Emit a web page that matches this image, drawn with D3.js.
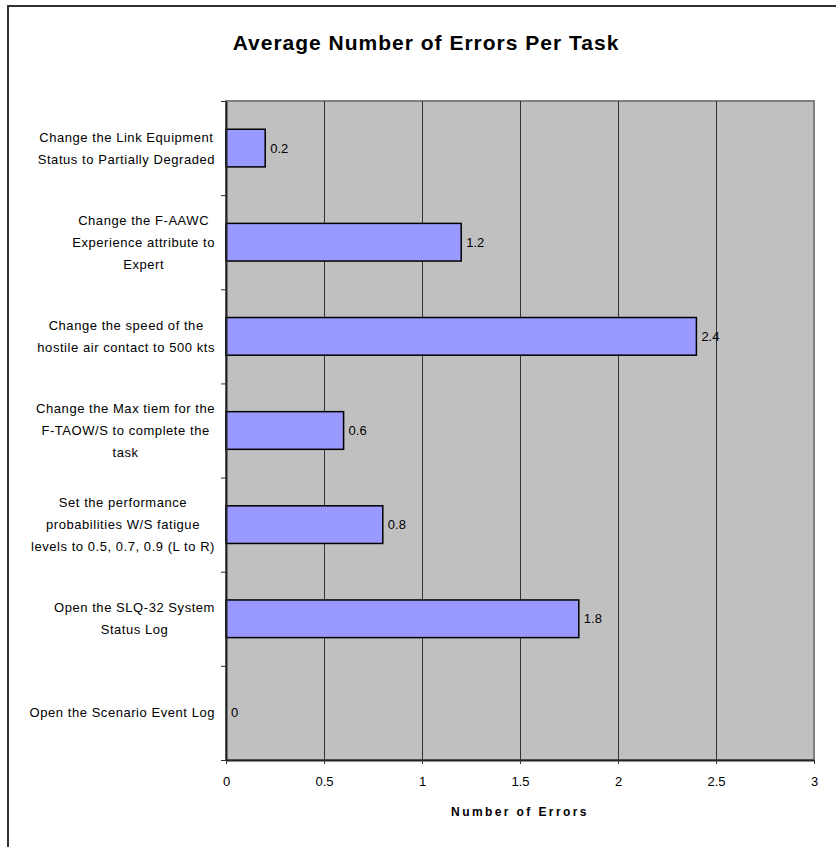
<!DOCTYPE html>
<html>
<head>
<meta charset="utf-8">
<script src="https://cdnjs.cloudflare.com/ajax/libs/d3/7.8.5/d3.min.js"></script>
<style>
	body { margin: 0; background: #fff; }
	text { font-family: Arial, "Liberation Sans", sans-serif; fill: #000; }
</style>
</head>
<body>
<div id="chart"></div>
<script>
var tasks = [
	["Change the Link Equipment", "Status to Partially Degraded"],
	["Change the F-AAWC", "Experience attribute to", "Expert"],
	["Change the speed of the", "hostile air contact to 500 kts"],
	["Change the Max tiem for the", "F-TAOW/S to complete the", "task"],
	["Set the performance", "probabilities W/S fatigue", "levels to 0.5, 0.7, 0.9 (L to R)"],
	["Open the SLQ-32 System", "Status Log"],
	["Open the Scenario Event Log"]
];
var errors = [0.2, 1.2, 2.4, 0.6, 0.8, 1.8, 0];
var xTicks = [0, 0.5, 1, 1.5, 2, 2.5, 3];
var title = "Average Number of Errors Per Task";
var xTitle = "Number of Errors";

var width = 836, height = 847;
var margin = {top: 101, right: 22, bottom: 87, left: 226};

var svg = d3.select("#chart").append("svg")
	.attr("width", width)
	.attr("height", height);

// outer frame (only top + left show in the picture)
svg.append("path")
	.attr("d", "M8,847 L8,6 L836,6")
	.attr("fill", "none")
	.attr("stroke", "#333")
	.attr("stroke-width", 2);

svg.append("text")
	.attr("x", 426)
	.attr("y", 50)
	.attr("text-anchor", "middle")
	.style("font-size", "21px")
	.style("font-weight", "bold")
	.style("letter-spacing", "1px")
	.text(title);

var x = d3.scaleLinear()
	.domain([0, 3])
	.range([margin.left, width - margin.right]);

var idx = tasks.map((d, i) => i);
var y = d3.scaleBand()
	.domain(idx)
	.range([margin.top, height - margin.bottom])
	.paddingInner(0.6)
	.paddingOuter(0.3);

var yEdge = d3.scaleLinear()
	.domain([0, tasks.length])
	.range([margin.top, height - margin.bottom]);

// plot background
svg.append("rect")
	.attr("x", x(0))
	.attr("y", yEdge(0))
	.attr("width", x(3) - x(0))
	.attr("height", yEdge(tasks.length) - yEdge(0))
	.attr("fill", "#c0c0c0")
	.attr("stroke", "#808080")
	.attr("stroke-width", 2);

// vertical gridlines
svg.selectAll(".grid")
	.data(xTicks.slice(1, -1))
	.enter()
	.append("line")
	.attr("class", "grid")
	.attr("x1", d => Math.round(x(d)) + 0.5)
	.attr("x2", d => Math.round(x(d)) + 0.5)
	.attr("y1", yEdge(0))
	.attr("y2", yEdge(tasks.length))
	.attr("stroke", "#333")
	.attr("stroke-width", 1);

// bars
svg.selectAll(".bar")
	.data(errors)
	.enter()
	.append("rect")
	.attr("class", "bar")
	.attr("x", x(0))
	.attr("y", (d, i) => y(i))
	.attr("width", d => x(d) - x(0))
	.attr("height", y.bandwidth())
	.attr("fill", "#9999ff")
	.attr("stroke", d => d > 0 ? "#000" : "none")
	.attr("stroke-width", 1.5);

// value labels
svg.selectAll(".val")
	.data(errors)
	.enter()
	.append("text")
	.attr("class", "val")
	.attr("x", d => x(d) + 5)
	.attr("y", (d, i) => y(i) + y.bandwidth() / 2)
	.attr("dy", "0.35em")
	.style("font-size", "13px")
	.text(d => d);

// x axis
var xAxis = svg.append("g")
	.attr("transform", "translate(0," + yEdge(tasks.length) + ")")
	.call(d3.axisBottom(x).tickValues(xTicks).tickFormat(d => d).tickSize(4).tickSizeOuter(0).tickPadding(13));
xAxis.select(".domain").attr("stroke", "#222").attr("stroke-width", 2);
xAxis.selectAll(".tick line").attr("stroke", "#333");
xAxis.selectAll("text").style("font-size", "13px").style("font-family", "Arial, 'Liberation Sans', sans-serif");

// y axis (ticks between categories)
var yAxis = svg.append("g")
	.attr("transform", "translate(" + x(0) + ",0)")
	.call(d3.axisLeft(yEdge).ticks(tasks.length).tickFormat("").tickSize(5).tickSizeOuter(0));
yAxis.select(".domain").attr("stroke", "#222").attr("stroke-width", 2);
yAxis.selectAll(".tick line").attr("stroke", "#333");

// category labels, wrapped lines centred inside a right-aligned block
var lineH = 22;
var labels = svg.selectAll(".cat")
	.data(tasks)
	.enter()
	.append("text")
	.attr("class", "cat")
	.style("font-size", "13px")
	.style("letter-spacing", "0.55px");

labels.each(function(lines, i) {
	var t = d3.select(this);
	var cy = y(i) + y.bandwidth() / 2;
	var y0 = cy - (lines.length - 1) * lineH / 2;
	lines.forEach(function(l, j) {
		t.append("tspan")
			.attr("y", y0 + j * lineH)
			.attr("dy", "0.35em")
			.text(l);
	});
	var maxW = 0;
	t.selectAll("tspan").each(function() {
		maxW = Math.max(maxW, this.getComputedTextLength());
	});
	t.attr("text-anchor", "middle");
	t.selectAll("tspan").attr("x", 215 - maxW / 2);
});

svg.append("text")
	.attr("x", (x(0) + x(3)) / 2)
	.attr("y", 816)
	.attr("text-anchor", "middle")
	.style("font-size", "12px")
	.style("font-weight", "bold")
	.style("letter-spacing", "2.4px")
	.text(xTitle);
</script>
</body>
</html>
